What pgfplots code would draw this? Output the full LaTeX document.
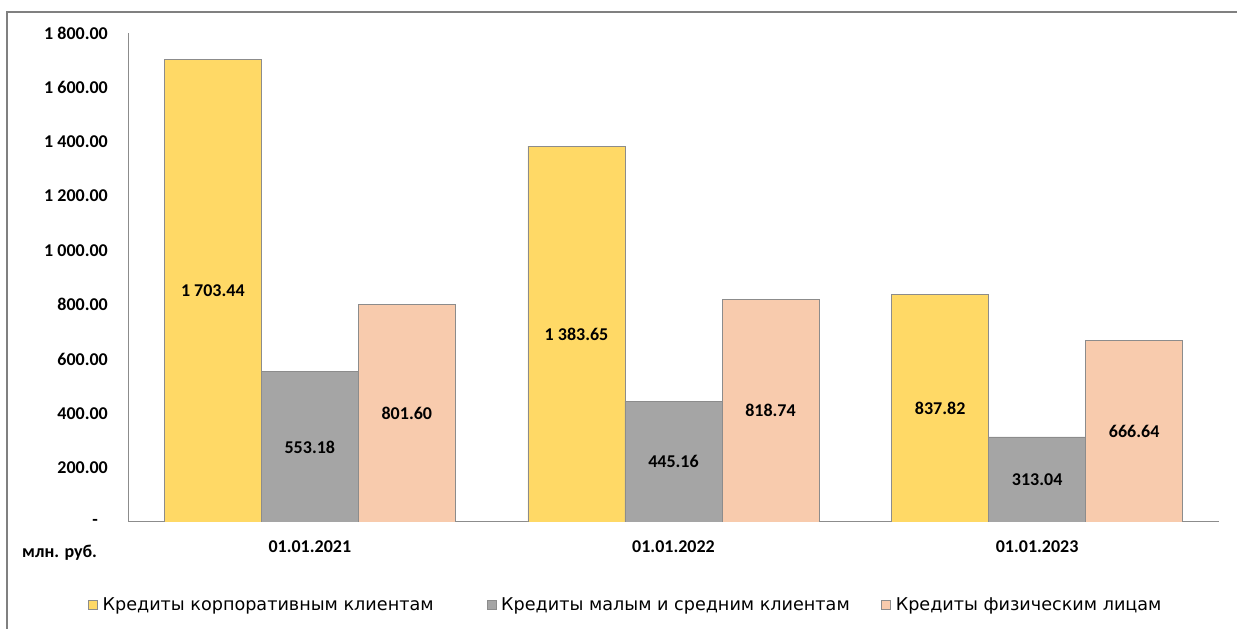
\documentclass[border=0pt]{standalone}
\usepackage{pgfplots}
\pgfplotsset{compat=1.18}
\usepackage{fontspec}
\setmainfont{Carlito}
\newfontfamily\legfont{DejaVu Sans}
\definecolor{cYel}{HTML}{FFD966}
\definecolor{cGry}{HTML}{A5A5A5}
\definecolor{cPch}{HTML}{F8CBAD}
\definecolor{cEdge}{HTML}{8C8C8C}
\definecolor{cFrame}{HTML}{808080}
\begin{document}
\begin{tikzpicture}[x=1pt,y=1pt]
\useasboundingbox (0,0) rectangle (1237,629);
\fill[white] (0,0) rectangle (1237,629);
\draw[cFrame, line width=1.5pt] (7,0) -- (7,617) -- (1237,617);
\begin{axis}[
  at={(128pt,107pt)}, anchor=south west,
  scale only axis, width=1091pt, height=489pt,
  xmin=-0.5, xmax=2.5, ymin=0, ymax=1800,
  ybar=0pt, bar width=97pt,
  axis x line*=bottom, axis y line*=left,
  axis line style={draw=cEdge, line width=1pt},
  xtick={0,1,2}, xticklabels={01.01.2021,01.01.2022,01.01.2023},
  ytick={0,200,...,1800},
  yticklabels={{-\hspace*{10pt}},200.00,400.00,600.00,800.00,1 000.00,1 200.00,1 400.00,1 600.00,1 800.00},
  major tick length=0pt,
  tick label style={font=\bfseries\fontsize{18}{20}\selectfont, text=black},
  yticklabel style={inner sep=0pt, anchor=east, xshift=-20pt},
  xticklabel style={inner sep=0pt, anchor=center, yshift=-25pt},
  nodes near coords, point meta=explicit symbolic,
  visualization depends on={y \as \rawy},
  every node near coord/.append style={anchor=center, yshift={-0.135833*\rawy}, font=\bfseries\fontsize{18}{20}\selectfont, text=black},
  legend columns=3,
  legend style={at={(axis description cs:0,0)}, anchor=west, xshift=-40pt, yshift=-83pt,
    draw=none, fill=none, inner sep=0pt, outer sep=0pt,
    font=\legfont\fontsize{17.6}{20}\selectfont,
    /tikz/every odd column/.append style={column sep=3pt}},
  legend cell align=left,
]
\addplot[fill=cYel, draw=cEdge, line width=0.8pt,
  legend image code/.code={\draw[fill=cYel, draw=cEdge, line width=0.6pt] (0pt,-4.5pt) rectangle (9pt,4.5pt);}]
  coordinates {(0,1703.44) [1 703.44] (1,1383.65) [1 383.65] (2,837.82) [837.82]};
\addlegendentry{\makebox[382pt][l]{Кредиты корпоративным клиентам}}
\addplot[fill=cGry, draw=cEdge, line width=0.8pt,
  legend image code/.code={\draw[fill=cGry, draw=cEdge, line width=0.6pt] (0pt,-4.5pt) rectangle (9pt,4.5pt);}]
  coordinates {(0,553.18) [553.18] (1,445.16) [445.16] (2,313.04) [313.04]};
\addlegendentry{\makebox[378pt][l]{Кредиты малым и средним клиентам}}
\addplot[fill=cPch, draw=cEdge, line width=0.8pt,
  legend image code/.code={\draw[fill=cPch, draw=cEdge, line width=0.6pt] (0pt,-4.5pt) rectangle (9pt,4.5pt);}]
  coordinates {(0,801.60) [801.60] (1,818.74) [818.74] (2,666.64) [666.64]};
\addlegendentry{\makebox[300pt][l]{Кредиты физическим лицам}}
\end{axis}
\node[anchor=west, inner sep=0pt, font=\bfseries\fontsize{18}{20}\selectfont] at (22,76) {млн. руб.};
\end{tikzpicture}
\end{document}
